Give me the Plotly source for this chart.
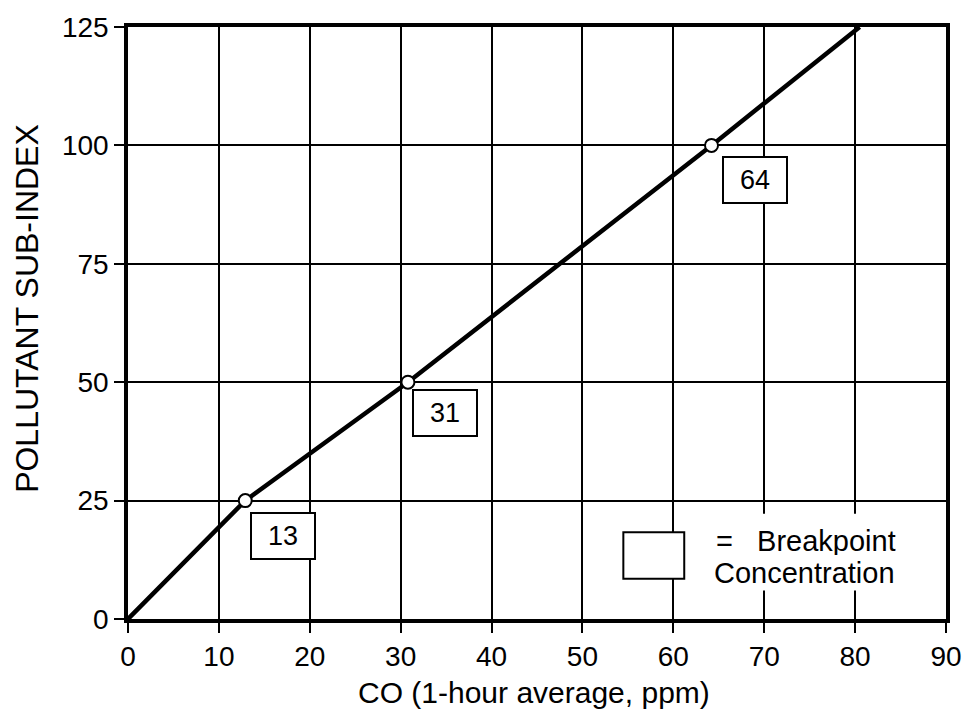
import plotly.graph_objects as go

# Data
co_ppm = [0, 12.9, 30.8, 64.2, 80.5]
sub_index = [0, 25, 50, 100, 125]
bp_x = [12.9, 30.8, 64.2]
bp_y = [25, 50, 100]
bp_labels = ["13", "31", "64"]
label_pos_x = [17.0, 34.9, 69.0]
label_pos_y = [17.6, 43.6, 92.8]
x_ticks = [0, 10, 20, 30, 40, 50, 60, 70, 80, 90]
y_ticks = [0, 25, 50, 75, 100, 125]

FONT = "Liberation Sans, Arial, Helvetica, sans-serif"

fig = go.Figure()
fig.add_trace(go.Scatter(x=co_ppm, y=sub_index, mode="lines",
                         line=dict(color="black", width=4.5), showlegend=False))
fig.add_trace(go.Scatter(x=bp_x, y=bp_y, mode="markers",
                         marker=dict(color="white", size=13, line=dict(color="black", width=2)),
                         showlegend=False))

for lx, ly, t in zip(label_pos_x, label_pos_y, bp_labels):
    fig.add_annotation(x=lx, y=ly, text=t, showarrow=False,
                       font=dict(family=FONT, size=27, color="black"),
                       bgcolor="white", bordercolor="black", borderwidth=2,
                       width=60, height=42, borderpad=1)

# legend: white background area, key box, text
fig.add_shape(type="rect", x0=62.6, x1=86.1, y0=6.0, y1=22.2,
              line=dict(width=0), fillcolor="white", layer="above")
fig.add_shape(type="rect", x0=54.5, x1=61.2, y0=8.5, y1=18.3,
              line=dict(color="black", width=2), fillcolor="white", layer="above")
fig.add_annotation(x=74.6, y=16.4, text="=   Breakpoint", showarrow=False,
                   xanchor="center", yanchor="middle", height=28, borderpad=0,
                   font=dict(family=FONT, size=29, color="black"))
fig.add_annotation(x=74.4, y=9.8, text="Concentration", showarrow=False,
                   xanchor="center", yanchor="middle", height=28, borderpad=0,
                   font=dict(family=FONT, size=29, color="black"))

# axis titles
fig.add_annotation(xref="paper", yref="paper", x=(536 - 128) / 823, y=(619 - 694) / 602,
                   xanchor="center", yanchor="middle",
                   text="CO (1-hour average, ppm)", showarrow=False,
                   font=dict(family=FONT, size=30, color="black"))
fig.add_annotation(xref="paper", yref="paper", x=(27 - 128) / 823, y=(619 - 303) / 602,
                   xanchor="center", yanchor="middle",
                   text="POLLUTANT SUB-INDEX", showarrow=False, textangle=-90,
                   font=dict(family=FONT, size=32, color="black"))

axis_common = dict(showgrid=True, gridcolor="black", gridwidth=1.6,
                   showline=True, linecolor="black", linewidth=3.5, mirror=True,
                   ticks="outside", ticklen=10, tickwidth=2, tickcolor="black",
                   tickfont=dict(family=FONT, size=28, color="black"),
                   zeroline=False)

fig.update_xaxes(range=[0, 90], tickvals=x_ticks, **axis_common)
fig.update_yaxes(range=[0, 125], tickvals=y_ticks, **axis_common)

fig.update_layout(width=974, height=715, plot_bgcolor="white", paper_bgcolor="white",
                  margin=dict(l=128, r=23, t=17, b=96))

fig.write_html("out.html")
